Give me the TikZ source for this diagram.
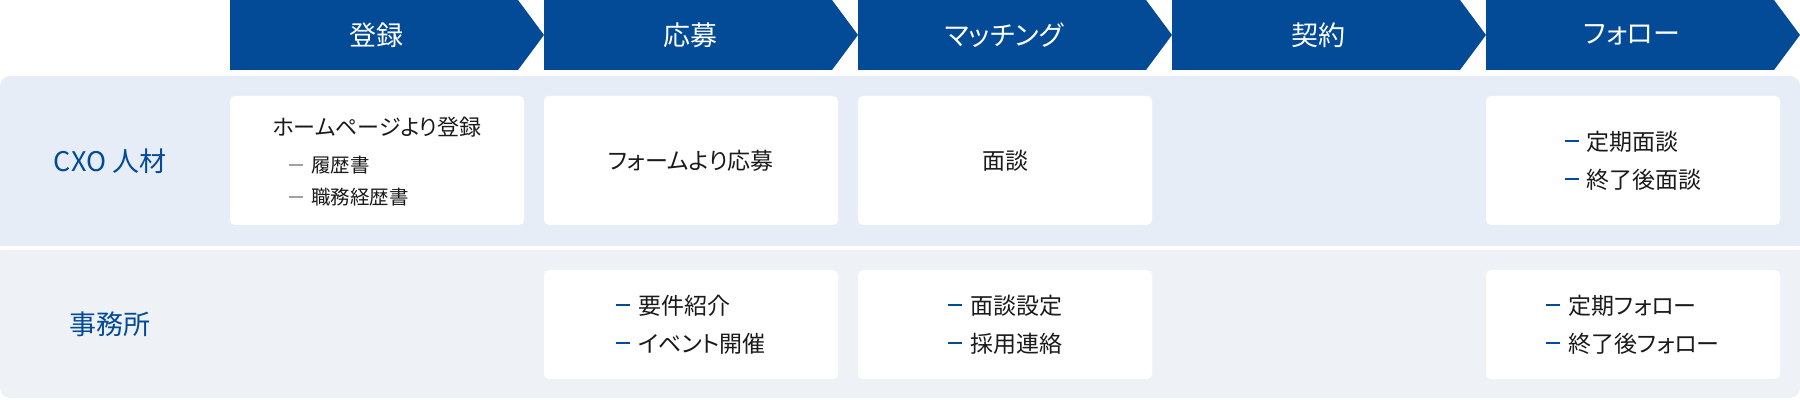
\documentclass[tikz,border=0pt]{standalone}
\usepackage{fontspec}
\setmainfont{Noto Sans CJK JP}[RawFeature=+palt]
\definecolor{flowblue}{HTML}{034A97}
\definecolor{rowone}{HTML}{E7EDF7}
\definecolor{rowtwo}{HTML}{EEF2F7}
\definecolor{dashgray}{HTML}{9EA3AA}
\definecolor{inkblack}{HTML}{1A1A1A}
\newcommand\bluedash{\textcolor{flowblue}{\rule[0.34em]{7pt}{1.1pt}}\hspace{4pt}}
\newcommand\graydash{\textcolor{dashgray}{\rule[0.34em]{7pt}{1pt}}\hspace{4pt}}
\tikzset{
  stage/.style={text=white,font=\fontsize{13.5}{16}\selectfont},
  rowlabel/.style={text=flowblue,font=\fontsize{13.5}{16}\selectfont},
  card/.style={fill=white,rounded corners=2.5pt,inner sep=0pt,text=inkblack,
    align=left,minimum width=147pt,font=\fontsize{11.5}{19}\selectfont},
  cardtop/.style={card,minimum height=64.5pt},
  cardbot/.style={card,minimum height=54.5pt},
}
\begin{document}
\begin{tikzpicture}[x=0.5pt,y=-0.5pt]
  \useasboundingbox (0,0) rectangle (1800,400);
  % bandas de fondo
  \fill[rowone,rounded corners=5pt] (0,76) rectangle (1800,246);
  \fill[rowone] (0,200) rectangle (1800,246);
  \fill[rowtwo,rounded corners=5pt] (0,250) rectangle (1800,398);
  \fill[rowtwo] (0,250) rectangle (1800,300);
  % etapas
  \foreach \name/\txt [count=\i from 0] in {reg/登録,apply/応募,match/マッチング,contract/契約,follow/フォロー}{
    \pgfmathsetmacro\xl{230+314*\i}
    \fill[flowblue] (\xl,0) -- ++(288,0) -- ++(26,35) -- ++(-26,35) -- ++(-288,0) -- cycle;
    \node[stage] (\name) at (\xl+146,35) {\txt};
  }
  \node[rowlabel] (cxo) at (110,161) {CXO 人材};
  \node[rowlabel] (office) at (110,324) {事務所};
  % fila CXO
  \node[cardtop] (regcxo) at (377,160.5) {};
  \node[inkblack,font=\fontsize{11}{16}\selectfont] (regmain) at (regcxo.center |- 0,127) {ホームページより登録};
  \node[inkblack,anchor=west,align=left,inner sep=0pt,font=\fontsize{9.75}{16}\selectfont] (regdocs) at (289,181)
    {\graydash 履歴書\\\graydash 職務経歴書};
  \node[cardtop] (applycxo) at (691,160.5) {フォームより応募};
  \node[cardtop] (matchcxo) at (1005,160.5) {面談};
  \node[cardtop] (followcxo) at (1633,160.5) {\bluedash 定期面談\\\bluedash 終了後面談};
  % fila oficina
  \node[cardbot] (applyoffice) at (691,324.5) {\bluedash 要件紹介\\\bluedash イベント開催};
  \node[cardbot] (matchoffice) at (1005,324.5) {\bluedash 面談設定\\\bluedash 採用連絡};
  \node[cardbot] (followoffice) at (1633,324.5) {\bluedash 定期フォロー\\\bluedash 終了後フォロー};
\end{tikzpicture}
\end{document}
